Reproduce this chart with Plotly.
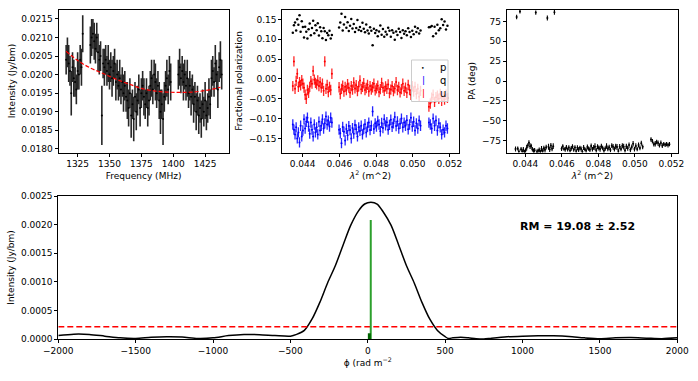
import numpy as np
import plotly.graph_objects as go

# ---------------- data ----------------
freq_mhz = ([1316, 1317, 1318, 1319, 1320, 1321, 1322, 1323, 1324, 1325, 1326, 1327, 1328, 1329]
            + list(range(1335, 1399)) + list(range(1404, 1439)))

stokes_i = [0.0204, 0.0206, 0.0203, 0.0201, 0.0195, 0.0202, 0.0199, 0.0198, 0.0196, 0.0201, 0.0200, 0.0204, 0.0202, 0.0211,
            0.0208, 0.0210, 0.0211, 0.0209, 0.0207, 0.0210, 0.0206, 0.0204, 0.0205, 0.0189,
            0.0203, 0.0202, 0.0204, 0.0201, 0.0203, 0.0200, 0.0202, 0.0199, 0.0201, 0.0203,
            0.0198, 0.0200, 0.0197, 0.0199, 0.0196, 0.0198, 0.0195, 0.0197, 0.0194, 0.0193,
            0.0191, 0.0195, 0.0189, 0.0192, 0.0188, 0.0194, 0.0190, 0.0193, 0.0196, 0.0191,
            0.0195, 0.0197, 0.0194, 0.0192, 0.0195, 0.0191, 0.0193, 0.0197, 0.0199, 0.0196,
            0.0200, 0.0198, 0.0195, 0.0197, 0.0193, 0.0190, 0.0192, 0.0188, 0.0194, 0.0197,
            0.0199, 0.0196, 0.0201, 0.0198,
            0.0200, 0.0202, 0.0199, 0.0201, 0.0198, 0.0200, 0.0197, 0.0199, 0.0195, 0.0197,
            0.0194, 0.0196, 0.0192, 0.0194, 0.0190, 0.0193, 0.0189, 0.0191, 0.0188, 0.0192,
            0.0190, 0.0193, 0.0189, 0.0191, 0.0194, 0.0192, 0.0199, 0.0201, 0.0198, 0.0203,
            0.0200, 0.0196, 0.0202, 0.0204, 0.0200]

stokes_i_err = [0.0004, 0.0004, 0.0005, 0.0004, 0.0006, 0.0004, 0.0005, 0.0004, 0.0004, 0.0005, 0.0004, 0.0004, 0.0005, 0.0005,
                0.0005, 0.0005, 0.0004, 0.0005, 0.0004, 0.0004, 0.0005, 0.0004, 0.0004, 0.0008,
                0.0004, 0.0005, 0.0004, 0.0004, 0.0005, 0.0004, 0.0004, 0.0005, 0.0004, 0.0004,
                0.0005, 0.0004, 0.0004, 0.0005, 0.0004, 0.0004, 0.0005, 0.0004, 0.0004, 0.0005,
                0.0005, 0.0004, 0.0006, 0.0004, 0.0006, 0.0004, 0.0005, 0.0004, 0.0004, 0.0005,
                0.0004, 0.0004, 0.0005, 0.0004, 0.0004, 0.0005, 0.0004, 0.0004, 0.0005, 0.0004,
                0.0004, 0.0005, 0.0004, 0.0004, 0.0005, 0.0006, 0.0004, 0.0007, 0.0004, 0.0004,
                0.0005, 0.0004, 0.0004, 0.0005,
                0.0004, 0.0005, 0.0004, 0.0004, 0.0005, 0.0004, 0.0004, 0.0005, 0.0004, 0.0004,
                0.0005, 0.0004, 0.0005, 0.0004, 0.0005, 0.0004, 0.0005, 0.0004, 0.0005, 0.0004,
                0.0004, 0.0005, 0.0004, 0.0004, 0.0005, 0.0004, 0.0005, 0.0004, 0.0004, 0.0005,
                0.0004, 0.0005, 0.0004, 0.0005, 0.0004]

stokes_q = [-0.125, -0.118, -0.135, -0.128, -0.140, -0.122, -0.112, -0.130, -0.105, -0.118, -0.100, -0.125, -0.115, -0.110,
            -0.118, -0.105, -0.125, -0.112, -0.130, -0.108, -0.120, -0.098, -0.115, -0.127,
            -0.104, -0.118, -0.110, -0.122, -0.100, -0.113, -0.125, -0.107, -0.119, -0.096,
            -0.112, -0.121, -0.103, -0.116, -0.128, -0.109, -0.117, -0.102, -0.124, -0.111,
            -0.132, -0.115, -0.106, -0.120, -0.112, -0.126, -0.082, -0.118, -0.129, -0.110,
            -0.121, -0.135, -0.114, -0.126, -0.140, -0.118, -0.131, -0.122, -0.145, -0.127,
            -0.116, -0.138, -0.124, -0.150, -0.129, -0.119, -0.142, -0.126, -0.155, -0.133,
            -0.121, -0.162, -0.137, -0.128,
            -0.110, -0.098, -0.120, -0.105, -0.115, -0.095, -0.112, -0.125, -0.102, -0.118,
            -0.130, -0.108, -0.140, -0.122, -0.135, -0.115, -0.145, -0.128, -0.110, -0.138,
            -0.120, -0.098, -0.108, -0.125, -0.102, -0.130, -0.145, -0.118, -0.160, -0.135,
            -0.150, -0.122, -0.140, -0.128, -0.115]

stokes_u = [-0.048, -0.040, -0.052, -0.045, -0.055, -0.038, -0.050, -0.042, -0.046, -0.058, -0.040, -0.047, -0.062, -0.070,
            -0.030, -0.045, -0.025, -0.038, -0.020, -0.032, -0.018, -0.040, -0.028, -0.015,
            -0.035, -0.022, -0.030, -0.012, -0.026, -0.034, -0.020, -0.028, -0.008, -0.024,
            -0.031, -0.018, -0.027, -0.036, -0.014, -0.025, -0.019, -0.030, -0.022, -0.010,
            -0.026, -0.033, -0.017, -0.024, -0.029, -0.012, -0.021, -0.027, -0.018, -0.032,
            -0.015, -0.023, -0.028, -0.011, -0.020, -0.026, -0.004, -0.019, -0.031, -0.016,
            -0.024, -0.009, -0.027, -0.018, -0.035, -0.022, -0.013, -0.028, -0.020, -0.032,
            -0.017, -0.025, -0.038, -0.021,
            0.013, -0.028, -0.020, -0.033, -0.015, -0.025, 0.044, -0.030, -0.012, -0.022,
            -0.008, -0.018, -0.004, -0.014, -0.010, -0.002, 0.020, -0.012, -0.006, -0.020,
            -0.035, -0.028, -0.050, -0.040, -0.022, -0.012, -0.003, -0.016, -0.008, -0.020,
            0.013, -0.005, -0.025, 0.044, -0.018]

qu_err = 0.013

fit_freq = [1316, 1325, 1335, 1345, 1355, 1365, 1375, 1385, 1395, 1405, 1415, 1425, 1437]
fit_i = [0.02063, 0.02038, 0.02018, 0.02003, 0.01988, 0.01975, 0.01963, 0.01956, 0.01953, 0.01952, 0.01953, 0.01957, 0.01966]

phi = [-2000, -1900, -1800, -1700, -1600, -1500, -1400, -1300, -1200, -1100, -1000, -900, -800, -700, -600, -500,
       -460, -410, -360, -310, -260, -210, -160, -110, -60, -20, 20, 60, 100, 150, 200, 250, 300, 350, 400, 450,
       500, 520, 550, 600, 650, 700, 750, 800, 900, 1000, 1100, 1200, 1300, 1400, 1500, 1600, 1700, 1800, 1900, 2000]
fdf_amp = [0.00006, 0.000085, 0.00008, 0.00005, 0.00002, 0.00001, 0.00003, 0.00004, 0.000035, 0.00001, 0.00002,
           0.00006, 0.00008, 0.000075, 0.00006, 0.00005,
           0.00008, 0.00015, 0.00035, 0.00064, 0.00098, 0.00128, 0.00164, 0.00199, 0.00224, 0.00236, 0.00239,
           0.00236, 0.00222, 0.00199, 0.00164, 0.00128, 0.00098, 0.00064, 0.00035, 0.00015,
           0.00004, 0.00001, 0.00002, 0.00003, 0.00002, 0.000005, 0.0, 0.000015, 0.00004, 0.00005, 0.000055,
           0.000055, 0.000045, 0.00002, 0.000005, 0.00002, 0.000025, 0.000015, 0.000005, 0.00002]

rm_value = 19.08
rm_error = 2.52
rm_peak = 0.00208
clean_phi = 10
clean_amp = 0.0001
noise_level = 0.000215

legend_labels = ["p", "q", "u"]
legend_colors = ["black", "blue", "red"]
legend_glyphs = ["•", "|", "|"]

# ---------------- derived ----------------
f = np.array(freq_mhz, dtype=float)
lam2 = (299.792458 / f) ** 2
q = np.array(stokes_q)
u = np.array(stokes_u)
p = np.sqrt(q ** 2 + u ** 2)
pa = 0.5 * np.degrees(np.arctan2(u, q))
pa_err = np.degrees(0.5 * qu_err / p)

FONT = "DejaVu Sans, Liberation Sans, sans-serif"
fig = go.Figure()

# panel 1: Stokes I spectrum
fig.add_trace(go.Scatter(x=f, y=stokes_i, mode="markers", xaxis="x", yaxis="y", showlegend=False,
                         marker=dict(color="black", size=2),
                         error_y=dict(type="data", array=stokes_i_err, color="#262626",
                                      thickness=1.6, width=0)))
fig.add_trace(go.Scatter(x=fit_freq, y=fit_i, mode="lines", xaxis="x", yaxis="y", showlegend=False,
                         line=dict(color="red", width=1.2, dash="4px,2px", shape="spline")))

# panel 2: fractional polarization
fig.add_trace(go.Scatter(x=lam2, y=p, mode="markers", name="p", xaxis="x2", yaxis="y2", showlegend=False,
                         marker=dict(color="black", size=2.5)))
fig.add_trace(go.Scatter(x=lam2, y=q, mode="markers", name="q", xaxis="x2", yaxis="y2", showlegend=False,
                         marker=dict(color="blue", size=2),
                         error_y=dict(type="constant", value=qu_err, color="rgba(0,0,255,0.85)", thickness=1.3, width=0)))
fig.add_trace(go.Scatter(x=lam2, y=u, mode="markers", name="u", xaxis="x2", yaxis="y2", showlegend=False,
                         marker=dict(color="red", size=2),
                         error_y=dict(type="constant", value=qu_err, color="rgba(255,0,0,0.85)", thickness=1.3, width=0)))

# panel 3: polarization angle
fig.add_trace(go.Scatter(x=lam2, y=pa, mode="markers", xaxis="x3", yaxis="y3", showlegend=False,
                         marker=dict(color="black", size=2),
                         error_y=dict(type="data", array=pa_err, color="black", thickness=1.1, width=0)))

# bottom: Faraday dispersion function
fig.add_trace(go.Scatter(x=phi, y=fdf_amp, mode="lines", xaxis="x4", yaxis="y4", showlegend=False,
                         line=dict(color="black", width=1.5, shape="spline", smoothing=0.8)))
fig.add_trace(go.Scatter(x=[phi[0], phi[-1]], y=[noise_level, noise_level], mode="lines", xaxis="x4", yaxis="y4",
                         showlegend=False, line=dict(color="red", width=1.5, dash="6px,3px")))
fig.add_trace(go.Scatter(x=[rm_value, rm_value], y=[0, rm_peak], mode="lines", xaxis="x4", yaxis="y4",
                         showlegend=False, line=dict(color="#2ca02c", width=2)))
fig.add_trace(go.Scatter(x=[clean_phi, clean_phi], y=[0, clean_amp], mode="lines", xaxis="x4", yaxis="y4",
                         showlegend=False, line=dict(color="#006400", width=3)))

fig.add_annotation(x=1358, y=0.00196, xref="x4", yref="y4", showarrow=False,
                   text="<b>RM = %.2f ± %.2f</b>" % (rm_value, rm_error),
                   font=dict(size=11, color="black", family=FONT))

# compact legend box for panel 2
fig.add_shape(type="rect", xref="paper", yref="paper", layer="above",
              x0=411.5 / 698, x1=448 / 698, y0=1 - 101.5 / 381, y1=1 - 60 / 381,
              fillcolor="rgba(255,255,255,0.8)", line=dict(color="#cccccc", width=1))
for k, (lab, col, gl) in enumerate(zip(legend_labels, legend_colors, legend_glyphs)):
    yk = 1 - (67.3 + 13 * k) / 381
    fig.add_annotation(x=423.3 / 698, y=yk, xref="paper", yref="paper", showarrow=False,
                       text=gl, font=dict(size=6 if k == 0 else 9, color=col, family=FONT),
                       xanchor="center", yanchor="middle")
    fig.add_annotation(x=438 / 698, y=yk, xref="paper", yref="paper", showarrow=False,
                       text=lab, font=dict(size=10, color="black", family=FONT),
                       xanchor="left", yanchor="middle")


def ax(**kw):
    base = dict(showline=True, linecolor="black", linewidth=1, mirror=True, ticks="outside", ticklen=3,
                tickwidth=1, tickcolor="black", showgrid=False, zeroline=False, automargin=False,
                tickfont=dict(size=9, color="black", family=FONT),
                title_font=dict(size=9, color="black", family=FONT))
    base.update(kw)
    return base


top_dom = [1 - 152.5 / 381, 1 - 9.5 / 381]
fig.update_layout(
    width=698, height=381, margin=dict(l=0, r=0, t=0, b=0),
    paper_bgcolor="white", plot_bgcolor="white", showlegend=False,
    font=dict(family=FONT, size=9, color="black"),
    xaxis=ax(domain=[58.5 / 698, 228.7 / 698], anchor="y", range=[1310, 1443.5],
             tickvals=[1325, 1350, 1375, 1400, 1425], title=dict(text="Frequency (MHz)", standoff=4)),
    yaxis=ax(domain=top_dom, anchor="x", range=[0.01790, 0.021756],
             tickvals=[0.0180, 0.0185, 0.0190, 0.0195, 0.0200, 0.0205, 0.0210, 0.0215], tickformat=".4f",
             title=dict(text="Intensity (Jy/bm)", standoff=4)),
    xaxis2=ax(domain=[282.3 / 698, 458.7 / 698], anchor="y2", range=[0.04289, 0.05251],
              tickvals=[0.044, 0.046, 0.048, 0.050, 0.052], tickformat=".3f",
              title=dict(text="<i>λ</i><sup>2</sup> (m^2)", standoff=4)),
    yaxis2=ax(domain=top_dom, anchor="x2", range=[-0.1855, 0.1749],
              tickvals=[-0.15, -0.10, -0.05, 0.0, 0.05, 0.10, 0.15], tickformat=".2f",
              title=dict(text="Fractional polarization", standoff=4)),
    xaxis3=ax(domain=[506.7 / 698, 678.3 / 698], anchor="y3", range=[0.04298, 0.05238],
              tickvals=[0.044, 0.046, 0.048, 0.050, 0.052], tickformat=".3f",
              title=dict(text="<i>λ</i><sup>2</sup> (m^2)", standoff=4)),
    yaxis3=ax(domain=top_dom, anchor="x3", range=[-90, 90],
              tickvals=[-75, -50, -25, 0, 25, 50, 75], title=dict(text="PA (deg)", standoff=4)),
    xaxis4=ax(domain=[58.3 / 698, 677.3 / 698], anchor="y4", range=[-2000, 2000],
              tickvals=[-2000, -1500, -1000, -500, 0, 500, 1000, 1500, 2000],
              title=dict(text="ϕ (rad m<sup>−2</sup>", standoff=4)),
    yaxis4=ax(domain=[1 - 339 / 381, 1 - 196 / 381], anchor="x4", range=[0, 0.0025],
              tickvals=[0, 0.0005, 0.0010, 0.0015, 0.0020, 0.0025], tickformat=".4f",
              title=dict(text="Intensity (Jy/bm)", standoff=4)),
)

fig.write_html("out.html", config={"displayModeBar": False},
               post_script="document.body.style.margin='0px';")
